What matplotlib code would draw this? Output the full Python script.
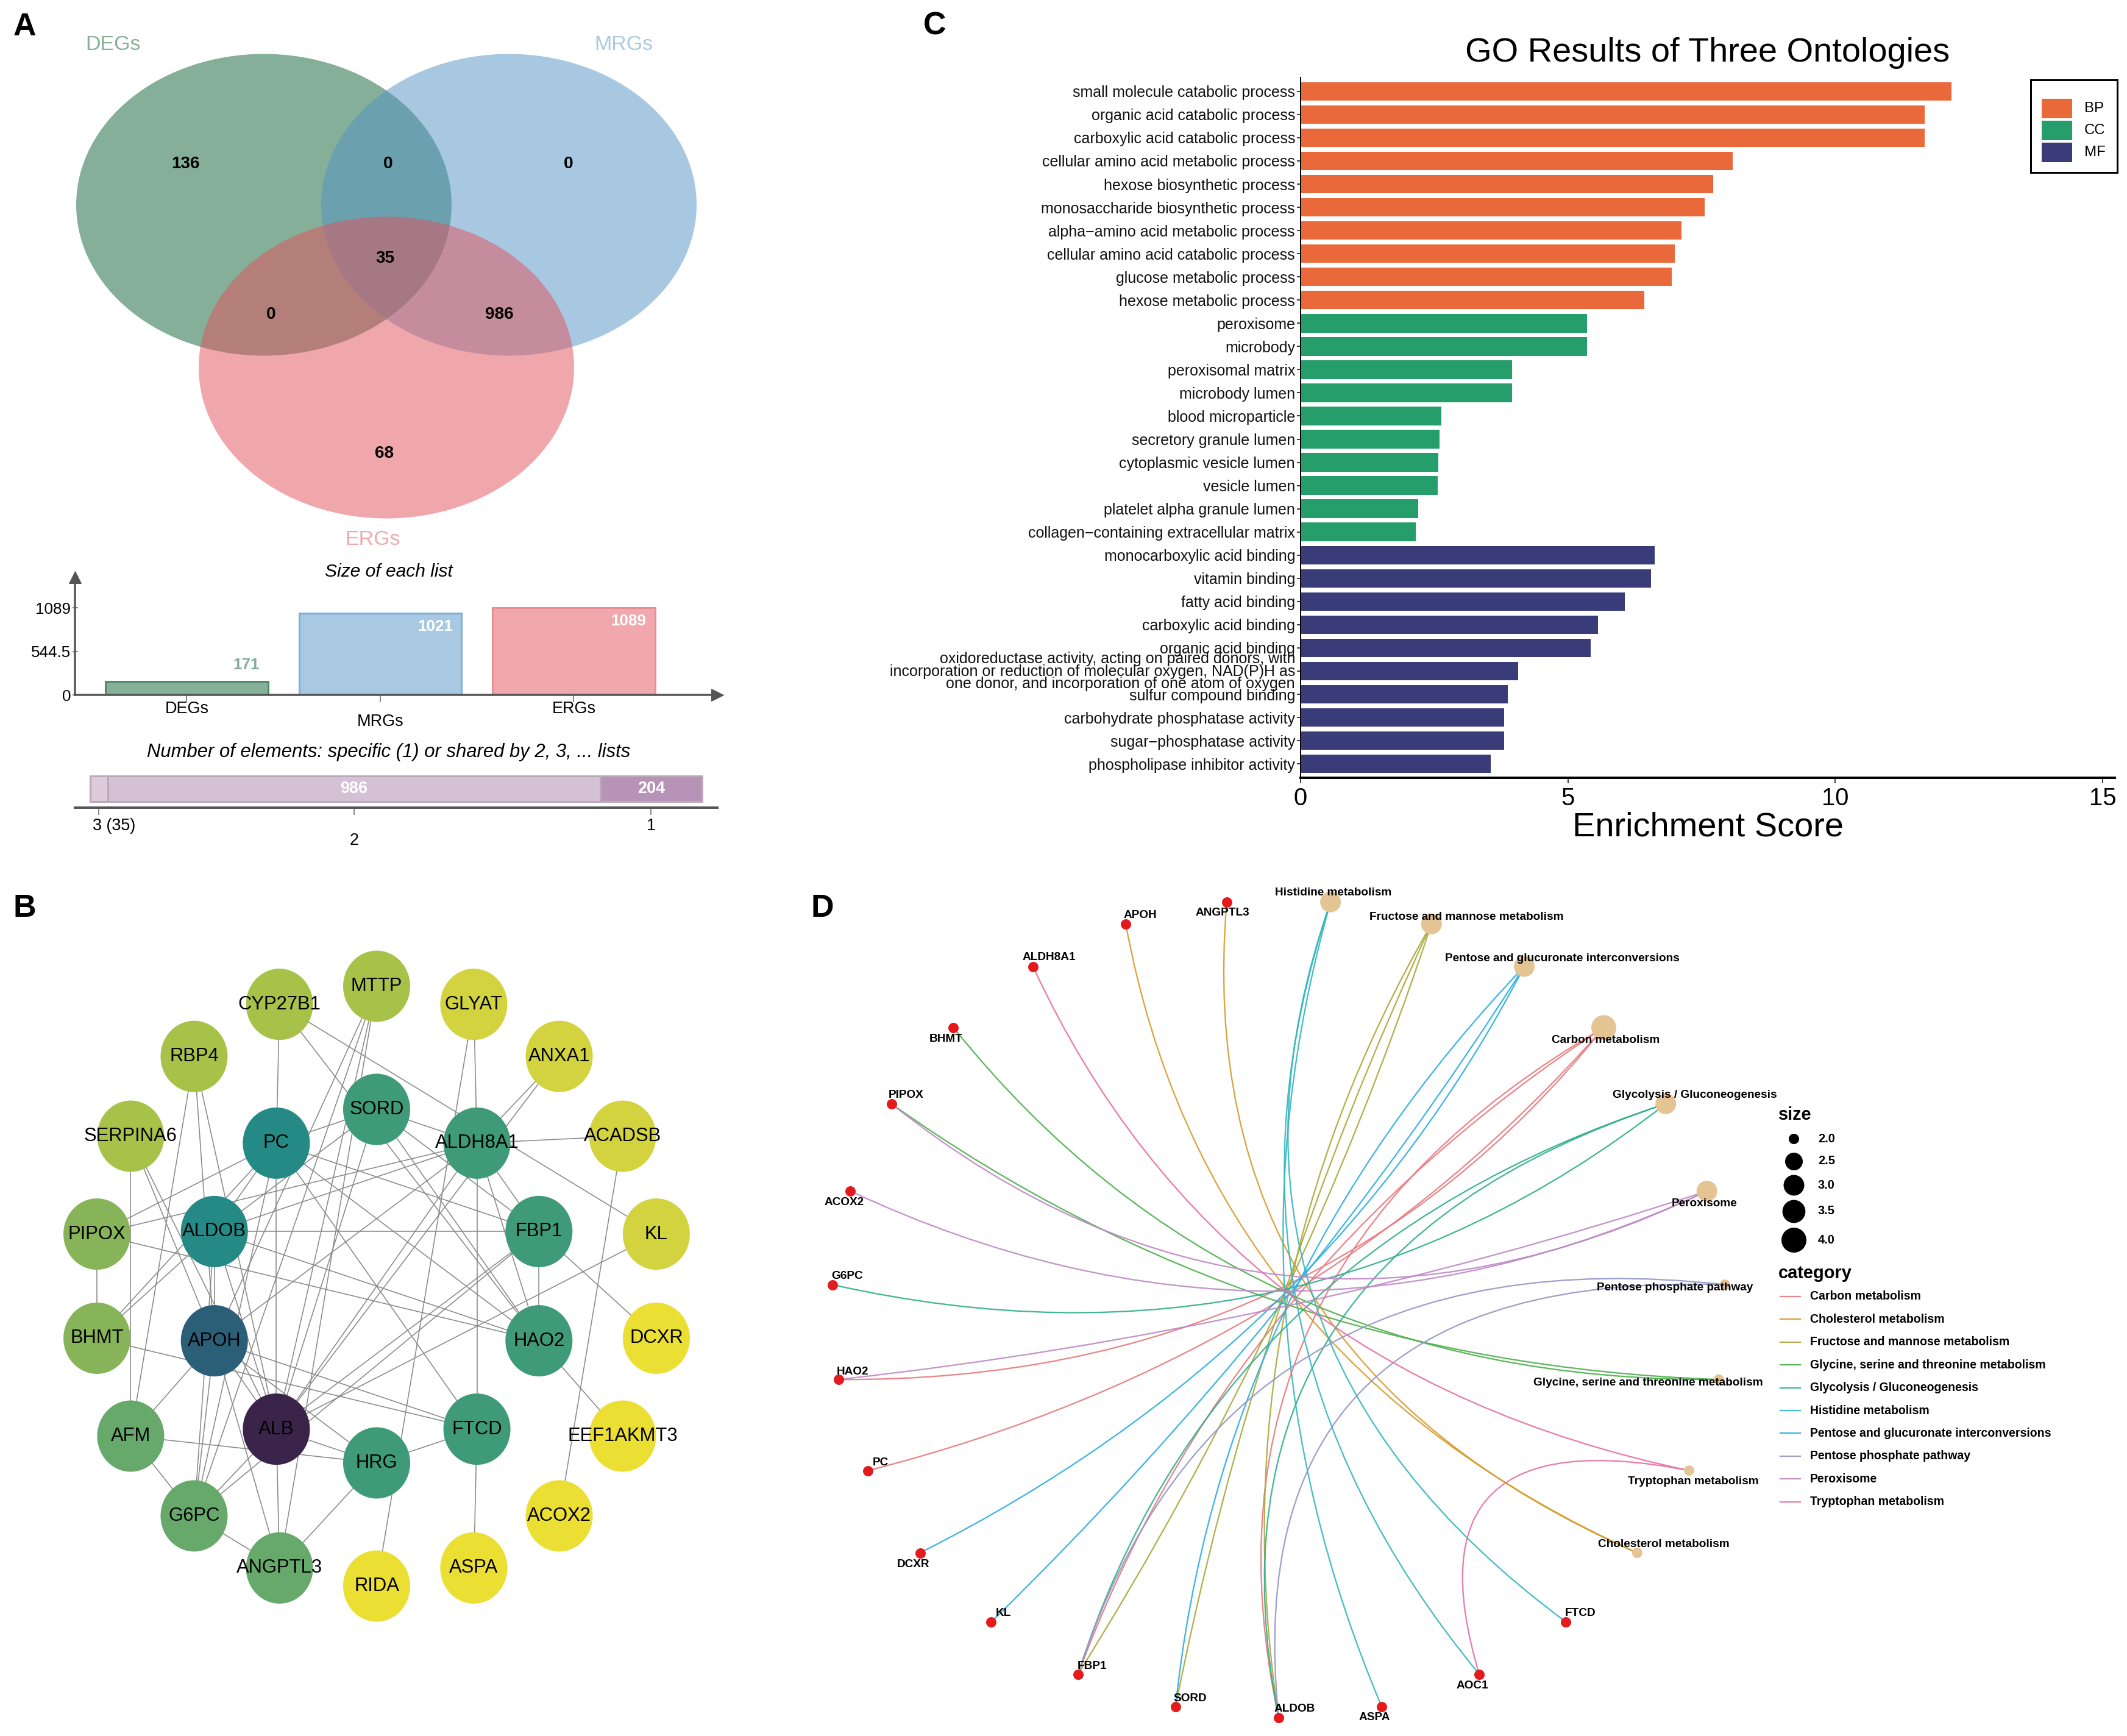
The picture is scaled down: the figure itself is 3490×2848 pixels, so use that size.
import numpy as np
import matplotlib.pyplot as plt
from matplotlib.patches import Ellipse, Rectangle, PathPatch
from matplotlib.path import Path

plt.rcParams['font.family'] = ['Liberation Sans', 'DejaVu Sans']

# ---------------- data ----------------
# A: Venn region counts, region code = membership in (DEGs, MRGs, ERGs)
venn_names = ['DEGs', 'MRGs', 'ERGs']
venn_regions = ['100', '110', '010', '111', '101', '011', '001']
venn_counts = [136, 0, 0, 35, 0, 986, 68]

# B: PPI network, concentric layout (clockwise from top)
ppi_inner = ['SORD', 'ALDH8A1', 'FBP1', 'HAO2', 'FTCD', 'HRG', 'ALB', 'APOH', 'ALDOB', 'PC']
ppi_outer = ['MTTP', 'GLYAT', 'ANXA1', 'ACADSB', 'KL', 'DCXR', 'EEF1AKMT3', 'ACOX2', 'ASPA',
             'RIDA', 'ANGPTL3', 'G6PC', 'AFM', 'BHMT', 'PIPOX', 'SERPINA6', 'RBP4', 'CYP27B1']
ppi_edges = [
    ('CYP27B1', 'PC'), ('CYP27B1', 'HAO2'), ('CYP27B1', 'KL'),
    ('RBP4', 'AFM'), ('RBP4', 'APOH'), ('RBP4', 'ALB'),
    ('SERPINA6', 'AFM'), ('SERPINA6', 'APOH'), ('SERPINA6', 'ALB'),
    ('PIPOX', 'BHMT'), ('PIPOX', 'PC'), ('PIPOX', 'ALDH8A1'), ('PIPOX', 'HAO2'),
    ('BHMT', 'ALDOB'), ('BHMT', 'PC'), ('BHMT', 'FTCD'),
    ('AFM', 'APOH'), ('AFM', 'HRG'), ('AFM', 'G6PC'),
    ('G6PC', 'ALDOB'), ('G6PC', 'PC'), ('G6PC', 'MTTP'), ('G6PC', 'ALB'), ('G6PC', 'FBP1'),
    ('G6PC', 'ANGPTL3'), ('G6PC', 'APOH'),
    ('APOH', 'ALDH8A1'), ('APOH', 'HRG'), ('APOH', 'FTCD'), ('APOH', 'ANGPTL3'),
    ('APOH', 'ALDOB'), ('APOH', 'ALB'), ('APOH', 'MTTP'),
    ('ALDOB', 'PC'), ('ALDOB', 'FBP1'), ('ALDOB', 'HAO2'), ('ALDOB', 'ALB'), ('ALDOB', 'SORD'),
    ('ALDOB', 'ALDH8A1'),
    ('PC', 'SORD'), ('PC', 'ALB'), ('PC', 'FTCD'), ('PC', 'HAO2'), ('PC', 'FBP1'),
    ('SORD', 'ALDH8A1'), ('SORD', 'FBP1'), ('SORD', 'HAO2'), ('SORD', 'ALB'),
    ('ALDH8A1', 'GLYAT'), ('ALDH8A1', 'ANXA1'), ('ALDH8A1', 'ACADSB'), ('ALDH8A1', 'FBP1'),
    ('ALDH8A1', 'HAO2'), ('ALDH8A1', 'FTCD'), ('ALDH8A1', 'ALB'),
    ('ANXA1', 'ALB'), ('GLYAT', 'RIDA'), ('ACADSB', 'ACOX2'), ('KL', 'ALB'),
    ('FBP1', 'HAO2'), ('FBP1', 'DCXR'), ('FBP1', 'ALB'),
    ('HAO2', 'EEF1AKMT3'), ('FTCD', 'ASPA'), ('FTCD', 'HRG'),
    ('HRG', 'ALB'), ('HRG', 'ANGPTL3'), ('ALB', 'ANGPTL3'), ('ALB', 'MTTP'), ('ANGPTL3', 'MTTP'),
]

# C: GO enrichment
go_terms = [
    'small molecule catabolic process', 'organic acid catabolic process',
    'carboxylic acid catabolic process', 'cellular amino acid metabolic process',
    'hexose biosynthetic process', 'monosaccharide biosynthetic process',
    'alpha\u2212amino acid metabolic process', 'cellular amino acid catabolic process',
    'glucose metabolic process', 'hexose metabolic process',
    'peroxisome', 'microbody', 'peroxisomal matrix', 'microbody lumen', 'blood microparticle',
    'secretory granule lumen', 'cytoplasmic vesicle lumen', 'vesicle lumen',
    'platelet alpha granule lumen', 'collagen\u2212containing extracellular matrix',
    'monocarboxylic acid binding', 'vitamin binding', 'fatty acid binding',
    'carboxylic acid binding', 'organic acid binding',
    'oxidoreductase activity, acting on paired donors, with\n'
    'incorporation or reduction of molecular oxygen, NAD(P)H as\n'
    'one donor, and incorporation of one atom of oxygen',
    'sulfur compound binding', 'carbohydrate phosphatase activity',
    'sugar\u2212phosphatase activity', 'phospholipase inhibitor activity',
]
go_scores = [12.18, 11.67, 11.67, 8.08, 7.72, 7.56, 7.12, 7.00, 6.94, 6.43,
             5.36, 5.36, 3.96, 3.96, 2.63, 2.60, 2.58, 2.57, 2.20, 2.16,
             6.62, 6.56, 6.07, 5.56, 5.43, 4.07, 3.88, 3.81, 3.81, 3.56]
go_ontology = ['BP'] * 10 + ['CC'] * 10 + ['MF'] * 10

# D: KEGG gene-concept network
kegg_paths = ['Carbon metabolism', 'Cholesterol metabolism', 'Fructose and mannose metabolism',
              'Glycine, serine and threonine metabolism', 'Glycolysis / Gluconeogenesis',
              'Histidine metabolism', 'Pentose and glucuronate interconversions',
              'Pentose phosphate pathway', 'Peroxisome', 'Tryptophan metabolism']
kegg_genes = [['PC', 'HAO2', 'FBP1', 'ALDOB'], ['APOH', 'ANGPTL3'], ['SORD', 'FBP1', 'ALDOB'],
              ['BHMT', 'PIPOX'], ['G6PC', 'FBP1', 'ALDOB'], ['FTCD', 'ASPA', 'AOC1'],
              ['DCXR', 'KL', 'SORD'], ['FBP1', 'ALDOB'], ['ACOX2', 'PIPOX', 'HAO2'],
              ['ALDH8A1', 'AOC1']]
# circular layout order, clockwise from the bottom
ring_order = ['ALDOB', 'SORD', 'FBP1', 'KL', 'DCXR', 'PC', 'HAO2', 'G6PC', 'ACOX2', 'PIPOX',
              'BHMT', 'ALDH8A1', 'APOH', 'ANGPTL3', 'Histidine metabolism',
              'Fructose and mannose metabolism', 'Pentose and glucuronate interconversions',
              'Carbon metabolism', 'Glycolysis / Gluconeogenesis', 'Peroxisome',
              'Pentose phosphate pathway', 'Glycine, serine and threonine metabolism',
              'Tryptophan metabolism', 'Cholesterol metabolism', 'FTCD', 'AOC1', 'ASPA']

# ---------------- styles ----------------
venn_base = ['#0d6135', '#5393c5', '#e15159']
venn_light = ['#86b09a', '#a9c9e2', '#f0a8ac']
venn_edge = ['#4f8a68', '#7aaedb', '#e98d95']
ont_colors = {'BP': '#E9693A', 'CC': '#269E6C', 'MF': '#393C78'}
cat_colors = ['#E8797F', '#D79A2B', '#AAA83A', '#4CB04C', '#2DAF8A',
              '#33B7BE', '#2AAEE0', '#9696C8', '#BE88C6', '#E670A2']
ppi_colors = {
    'ALB': '#3a2449', 'APOH': '#2b5f78', 'PC': '#258a86', 'ALDOB': '#258a86',
    'SORD': '#3f9a7a', 'ALDH8A1': '#3f9a7a', 'FBP1': '#3f9a7a', 'HAO2': '#3f9a7a',
    'FTCD': '#3f9a7a', 'HRG': '#3f9a7a',
    'ANGPTL3': '#66a96b', 'G6PC': '#66a96b', 'AFM': '#66a96b',
    'BHMT': '#87b458', 'PIPOX': '#87b458',
    'CYP27B1': '#a8c249', 'MTTP': '#a8c249', 'RBP4': '#a8c249', 'SERPINA6': '#a8c249',
    'GLYAT': '#d2d33e', 'ANXA1': '#d2d33e', 'ACADSB': '#d2d33e', 'KL': '#d2d33e',
    'DCXR': '#ecdf34', 'EEF1AKMT3': '#ecdf34', 'ACOX2': '#ecdf34', 'ASPA': '#ecdf34',
    'RIDA': '#ecdf34',
}

W, H, DPI = 3490, 2848, 72
fig = plt.figure(figsize=(W / DPI, H / DPI), dpi=DPI)
fig.patch.set_facecolor('white')


def px_axes(x0, y0, x1, y1):
    ax = fig.add_axes([x0 / W, 1 - y1 / H, (x1 - x0) / W, (y1 - y0) / H])
    ax.patch.set_visible(False)
    return ax


# overlay in pixel coordinates (venn, titles, legends, letters)
ov = px_axes(0, 0, W, H)
ov.set_xlim(0, W)
ov.set_ylim(H, 0)
ov.axis('off')
ov.set_zorder(5)

# ---------------- A: Venn ----------------
venn_centres = [(433, 336), (835, 336), (634, 603)]
for c, col in zip(venn_centres, venn_base):
    ov.add_patch(Ellipse(c, 616, 495, facecolor=col, alpha=0.5, lw=0))
name_pos = [(186, 73), (1023, 73), (612, 886)]
for nm, p, col in zip(venn_names, name_pos, venn_light):
    ov.text(p[0], p[1], nm, color=col, fontsize=34, ha='center', va='center')
region_pos = {'100': (305, 269), '110': (637, 269), '010': (933, 269), '111': (632, 424),
              '101': (445, 516), '011': (819, 516), '001': (631, 744)}
for r, c in zip(venn_regions, venn_counts):
    ov.text(*region_pos[r], str(c), fontsize=28, fontweight='bold', ha='center', va='center')

# size of each list
set_sizes = [sum(c for r, c in zip(venn_regions, venn_counts) if r[i] == '1') for i in range(3)]
axb = px_axes(123, 947, 1177, 1140)
xb = np.arange(3)
axb.bar(xb, set_sizes, width=0.84, color=venn_light, edgecolor=venn_edge, linewidth=3, zorder=2)
axb.set_xlim(-0.578, 2.742)
axb.set_ylim(0, 1470)
for s in ['top', 'right']:
    axb.spines[s].set_visible(False)
for s in ['left', 'bottom']:
    axb.spines[s].set_color('#555555')
    axb.spines[s].set_linewidth(3.5)
    axb.spines[s].set_zorder(3)
top = max(set_sizes)
axb.set_yticks([0, top / 2, top], [f'{v:g}' for v in [0, top / 2, top]])
axb.tick_params(axis='y', labelsize=26, length=9, width=2, direction='inout', color='#888888', pad=2)
axb.set_xticks(xb, ['', '', ''])
axb.tick_params(axis='x', length=12, width=2, color='#888888')
for i, nm in enumerate(venn_names):
    axb.annotate(nm, xy=(i, 0), xycoords=('data', 'axes fraction'),
                 xytext=(0, -23 if i != 1 else -44), textcoords='offset points',
                 ha='center', va='center', fontsize=27)
for i, v in enumerate(set_sizes):
    inside = v > top / 2
    axb.annotate(str(v), xy=(i + 0.42, v), xytext=(-14, -22 if inside else 27),
                 textcoords='offset points', ha='right', va='center', fontsize=26,
                 fontweight='bold', color='white' if inside else venn_light[i], zorder=4)
axb.plot(0, 1, marker='^', ms=20, color='#555555', transform=axb.transAxes, clip_on=False)
axb.plot(1, 0, marker='>', ms=20, color='#555555', transform=axb.transAxes, clip_on=False)
ov.text(638, 938, 'Size of each list', fontsize=30, style='italic', ha='center', va='center')

# number of elements shared
shared = [sum(c for r, c in zip(venn_regions, venn_counts) if r.count('1') == k) for k in (3, 2, 1)]
lefts = np.concatenate([[0], np.cumsum(shared)[:-1]])
axn = px_axes(123, 1265, 1177, 1325)
axn.barh(0.517, shared, left=lefts, height=0.7, color=['#ddcadd', '#d5c1d6', '#b793b8'],
         edgecolor='#b9a9b9', linewidth=3)
axn.set_xlim(-30.5, 1255.5)
axn.set_ylim(0, 1)
for s in ['top', 'right', 'left']:
    axn.spines[s].set_visible(False)
axn.spines['bottom'].set_color('#555555')
axn.spines['bottom'].set_linewidth(4)
centres = lefts + np.array(shared) / 2
axn.set_yticks([])
axn.set_xticks(centres, ['', '', ''])
axn.tick_params(axis='x', length=12, width=2, color='#888888')
share_labels = [f'3 ({shared[0]})', '2', '1']
share_offsets = [(-10, -30, 'left'), (0, -54, 'center'), (0, -30, 'center')]
for c, lab, (dx, dy, ha) in zip(centres, share_labels, share_offsets):
    axn.annotate(lab, xy=(c, 0), xycoords=('data', 'axes fraction'), xytext=(dx, dy),
                 textcoords='offset points', ha=ha, va='center', fontsize=27)
for c, v in zip(centres, shared):
    if v > 100:
        axn.text(c, 0.517, str(v), color='white', fontsize=27, fontweight='bold',
                 ha='center', va='center')
ov.text(638, 1234, 'Number of elements: specific (1) or shared by 2, 3, ... lists',
        fontsize=31, style='italic', ha='center', va='center')

# ---------------- B: PPI network ----------------
axp = px_axes(0, 1450, 1250, 2848)
axp.set_xlim(-618, 632)
axp.set_ylim(-738, 660)
axp.axis('off')
pos_b = {}
for ring, (rx, ry) in [(ppi_inner, (280, 290)), (ppi_outer, (466, 492))]:
    for k, g in enumerate(ring):
        a = np.deg2rad(90 - 360 * k / len(ring))
        pos_b[g] = (rx * np.cos(a), ry * np.sin(a))
for a, b in ppi_edges:
    axp.plot([pos_b[a][0], pos_b[b][0]], [pos_b[a][1], pos_b[b][1]],
             color='#8a8a8a', lw=1.6, zorder=1)
for g, (x, y) in pos_b.items():
    axp.add_patch(Ellipse((x, y), 110, 117, facecolor=ppi_colors[g], lw=0, zorder=2))
    axp.text(x, y, g, fontsize=31, ha='center', va='center', zorder=3)

# ---------------- C: GO bar chart ----------------
axc = px_axes(2134, 127, 3470, 1276)
n = len(go_terms)
yc = np.arange(n, 0, -1)
axc.barh(yc, go_scores, height=0.8, color=[ont_colors[o] for o in go_ontology])
axc.set_ylim(0.4, n + 0.6)
axc.set_xlim(0, 15.23)
axc.set_yticks(yc, go_terms)
axc.set_xticks([0, 5, 10, 15])
axc.tick_params(axis='y', labelsize=25, length=6, width=1.5, pad=3, labelcolor='#111111')
axc.tick_params(axis='x', labelsize=40, length=9, width=1.5, pad=6)
for lab in axc.get_yticklabels():
    if '\n' in lab.get_text():
        lab.set_linespacing(0.8)
for s in ['top', 'right']:
    axc.spines[s].set_visible(False)
axc.spines['left'].set_linewidth(2)
axc.spines['bottom'].set_linewidth(4)
axc.set_xlabel('Enrichment Score', fontsize=56, labelpad=2)
ov.text(2802, 87, 'GO Results of Three Ontologies', fontsize=56, ha='center', va='center')
# legend
ov.add_patch(Rectangle((3332, 131), 142, 152, fill=False, edgecolor='black', lw=3))
for k, o in enumerate(['BP', 'CC', 'MF']):
    y0 = 161 + 36 * k
    ov.add_patch(Rectangle((3349, y0), 51, 33, facecolor=ont_colors[o], edgecolor='white', lw=1))
    ov.text(3420, y0 + 17, o, fontsize=24, ha='left', va='center')

# ---------------- D: cnetplot ----------------
axd = px_axes(1300, 1400, 3490, 2848)
axd.set_xlim(-1.0879, 1.8978)
axd.set_ylim(-1.0447, 1.1120)
axd.axis('off')
n_ring = len(ring_order)
ang = {nm: -np.pi / 2 - i * 2 * np.pi / n_ring for i, nm in enumerate(ring_order)}
xy = {nm: np.array([np.cos(a), np.sin(a)]) for nm, a in ang.items()}
for path, genes, col in zip(kegg_paths, kegg_genes, cat_colors):
    for g in genes:
        p0, p1 = xy[g], xy[path]
        d = (ang[path] - ang[g] + np.pi) % (2 * np.pi) - np.pi
        phi = ang[g] + d / 2
        mid = (1 - np.sin(abs(d) / 2)) * np.array([np.cos(phi), np.sin(phi)])
        ctrl = 2 * mid - (p0 + p1) / 2
        axd.add_patch(PathPatch(Path([p0, ctrl, p1], [Path.MOVETO, Path.CURVE3, Path.CURVE3]),
                                fill=False, edgecolor=col, lw=2.3, alpha=0.9, zorder=1))


def size_diam(v):
    return 17 + 24 * np.sqrt((v - 2) / 2)


path_sizes = [len(g) for g in kegg_genes]
axd.scatter([xy[p][0] for p in kegg_paths], [xy[p][1] for p in kegg_paths],
            s=[size_diam(v) ** 2 for v in path_sizes], color='#E5C494', lw=0, zorder=2)
gene_nodes = [nm for nm in ring_order if nm not in kegg_paths]
axd.scatter([xy[g][0] for g in gene_nodes], [xy[g][1] for g in gene_nodes],
            s=17 ** 2, color='#E41A1C', lw=0, zorder=3)
label_offsets = {
    'APOH': (24, 14), 'ANGPTL3': (-7, -18), 'ALDH8A1': (26, 15), 'BHMT': (-12, -19),
    'PIPOX': (24, 14), 'ACOX2': (-10, -18), 'G6PC': (24, 14), 'HAO2': (23, 13), 'PC': (20, 13),
    'DCXR': (-11, -19), 'KL': (20, 14), 'FBP1': (23, 13), 'SORD': (24, 13), 'ALDOB': (26, 14),
    'ASPA': (-12, -18), 'AOC1': (-11, -19), 'FTCD': (24, 14),
    'Histidine metabolism': (5, 15), 'Fructose and mannose metabolism': (57, 11),
    'Pentose and glucuronate interconversions': (62, 13), 'Carbon metabolism': (3, -21),
    'Glycolysis / Gluconeogenesis': (48, 14), 'Peroxisome': (-4, -20),
    'Pentose phosphate pathway': (-82, -5), 'Glycine, serine and threonine metabolism': (-116, -5),
    'Tryptophan metabolism': (7, -18), 'Cholesterol metabolism': (43, 14),
}
for nm in ring_order:
    axd.annotate(nm, xy=xy[nm], xytext=label_offsets[nm], textcoords='offset points',
                 ha='center', va='center', fontsize=19, fontweight='bold', zorder=4)

# legend of D
ov.text(2918, 1829, 'size', fontsize=29, fontweight='bold', ha='left', va='center')
for k, v in enumerate([2.0, 2.5, 3.0, 3.5, 4.0]):
    yk = [1868, 1905, 1944, 1987, 2034][k]
    ov.scatter(2943, yk, s=size_diam(v) ** 2, color='black', lw=0)
    ov.text(2983, yk, f'{v:.1f}', fontsize=20, fontweight='bold', ha='left', va='center')
ov.text(2918, 2089, 'category', fontsize=29, fontweight='bold', ha='left', va='center')
for k, (p, col) in enumerate(zip(kegg_paths, cat_colors)):
    yk = 2127 + 37.4 * k
    ov.plot([2921, 2954], [yk, yk], color=col, lw=2.3, alpha=0.9)
    ov.text(2970, yk, p, fontsize=19.5, fontweight='bold', ha='left', va='center')

# panel letters
for letter, (lx, ly) in zip('ABCD', [(40, 45), (40, 1490), (1534, 43), (1349, 1491)]):
    ov.text(lx, ly, letter, fontsize=52, fontweight='bold', ha='center', va='center')

fig.savefig('out.png', dpi=DPI)
